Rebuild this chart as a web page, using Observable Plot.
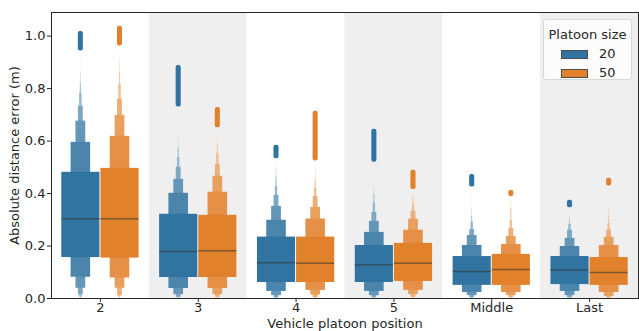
<!DOCTYPE html>
<html><head><meta charset="utf-8">
<script src="https://cdn.jsdelivr.net/npm/d3@7"></script>
<script src="https://cdn.jsdelivr.net/npm/@observablehq/plot@0.6"></script>
<style>
body{margin:0;background:#fff;font-family:"DejaVu Sans",sans-serif;}
#wrap{position:relative;width:639px;height:331px;}
.legend{position:absolute;left:543px;top:19px;width:87px;height:59px;border:1px solid #d9d9d9;border-radius:3px;background:rgba(255,255,255,0.8);font-size:13px;color:#262626;box-sizing:content-box;}
.legend .t{position:absolute;left:0;width:100%;top:7px;text-align:center;line-height:15px;}
.legend .row{position:absolute;left:17px;height:15px;line-height:15px;}
.legend .sw{display:inline-block;width:25px;height:7px;border:1px solid #4d4d4d;vertical-align:middle;margin-right:11px;}
</style></head><body><div id="wrap"></div>
<script>
const positions = ["2", "3", "4", "5", "Middle", "Last"];
const platoonSizes = ["20", "50"];
const palette = ["#3274a1", "#e1812c"];

const median20 = [0.304, 0.179, 0.136, 0.129, 0.103, 0.109];
const median50 = [0.304, 0.182, 0.134, 0.134, 0.111, 0.099];

// letter values, level 1 (quartiles) ... level 8
const upper20 = [
  [0.481, 0.595, 0.676, 0.733, 0.782, 0.822, 0.864, 0.921],
  [0.321, 0.401, 0.454, 0.500, 0.538, 0.573, 0.607, 0.660],
  [0.234, 0.298, 0.351, 0.393, 0.427, 0.462, 0.492, 0.523],
  [0.202, 0.252, 0.294, 0.328, 0.363, 0.397, 0.427, 0.469],
  [0.160, 0.202, 0.240, 0.263, 0.290, 0.313, 0.340, 0.397],
  [0.160, 0.198, 0.229, 0.260, 0.282, 0.298, 0.317, 0.336]
];
const lower20 = [
  [0.156, 0.081, 0.039, 0.014, 0.005, 0.002, 0.001, 0.000],
  [0.080, 0.038, 0.015, 0.005, 0.002, 0.001, 0.0005, 0.000],
  [0.061, 0.027, 0.011, 0.003, 0.001, 0.0005, 0.0002, 0.000],
  [0.061, 0.027, 0.011, 0.004, 0.001, 0.0005, 0.0002, 0.000],
  [0.050, 0.023, 0.011, 0.004, 0.001, 0.0005, 0.0002, 0.000],
  [0.053, 0.027, 0.011, 0.003, 0.001, 0.0005, 0.0002, 0.000]
];
const upper50 = [
  [0.496, 0.618, 0.698, 0.760, 0.816, 0.864, 0.908, 0.947],
  [0.317, 0.405, 0.466, 0.511, 0.553, 0.588, 0.618, 0.649],
  [0.234, 0.303, 0.347, 0.389, 0.420, 0.454, 0.485, 0.508],
  [0.210, 0.260, 0.302, 0.332, 0.359, 0.382, 0.400, 0.412],
  [0.168, 0.206, 0.237, 0.267, 0.298, 0.344, 0.374, 0.387],
  [0.156, 0.202, 0.233, 0.260, 0.286, 0.317, 0.355, 0.400]
];
const lower50 = [
  [0.154, 0.078, 0.039, 0.011, 0.005, 0.002, 0.001, 0.000],
  [0.080, 0.038, 0.015, 0.005, 0.002, 0.001, 0.0005, 0.000],
  [0.061, 0.031, 0.013, 0.004, 0.001, 0.0005, 0.0002, 0.000],
  [0.065, 0.031, 0.015, 0.005, 0.002, 0.001, 0.0005, 0.000],
  [0.050, 0.023, 0.011, 0.004, 0.001, 0.0005, 0.0002, 0.000],
  [0.050, 0.023, 0.008, 0.003, 0.001, 0.0005, 0.0002, 0.000]
];
// outlier span [low, high]
const outliers20 = [[0.943, 1.018], [0.730, 0.888], [0.533, 0.584], [0.519, 0.645], [0.425, 0.473], [0.346, 0.374]];
const outliers50 = [[0.962, 1.038], [0.651, 0.728], [0.524, 0.714], [0.415, 0.489], [0.389, 0.412], [0.429, 0.458]];

const nLevels = 8;
const yMax = 1.09;
const groupWidth = 0.4;

function levelColor(base, level) {
  const t = 0.85 * (level - 1) / (nLevels - 1);
  return d3.interpolateRgb(base, "#ffffff")(t);
}

const boxes = [], mainBoxes = [], medians = [], outs = [];
positions.forEach((p, i) => {
  platoonSizes.forEach((s, j) => {
    const up = j ? upper50[i] : upper20[i];
    const lo = j ? lower50[i] : lower20[i];
    const med = j ? median50[i] : median20[i];
    const ol = j ? outliers50[i] : outliers20[i];
    const c = i + (j ? groupWidth / 2 : -groupWidth / 2);
    for (let L = nLevels; L >= 1; L--) {
      const hw = (groupWidth / 2) * Math.pow(2, -(L - 1));
      const row = {x1: c - hw, x2: c + hw, y1: lo[L - 1], y2: up[L - 1], fill: levelColor(palette[j], L)};
      (L === 1 ? mainBoxes : boxes).push(row);
    }
    medians.push({x1: c - groupWidth / 2 + 0.005, x2: c + groupWidth / 2 - 0.005, y: med});
    outs.push({x1: c - 0.026, x2: c + 0.026, y1: ol[0], y2: ol[1], fill: palette[j]});
  });
});
const bands = [1, 3, 5].map(i => ({x1: i - 0.5, x2: i + 0.5}));

const chart = Plot.plot({
  width: 639, height: 331,
  marginLeft: 51, marginRight: 1, marginTop: 12, marginBottom: 33,
  style: {fontFamily: "DejaVu Sans, sans-serif", fontSize: "13px", color: "#262626", background: "transparent"},
  x: {domain: [-0.5, 5.5]},
  y: {domain: [0, yMax]},
  marks: [
    Plot.rect(bands, {x1: "x1", x2: "x2", fill: "#efefef"}),
    Plot.rect(boxes, {x1: "x1", x2: "x2", y1: "y1", y2: "y2", fill: d => d.fill}),
    Plot.rect(mainBoxes, {x1: "x1", x2: "x2", y1: "y1", y2: "y2", fill: d => d.fill, insetLeft: 0.5, insetRight: 0.5}),
    Plot.ruleY(medians, {x1: "x1", x2: "x2", y: "y", stroke: "#333333", strokeOpacity: 0.55, strokeWidth: 1.5}),
    Plot.rect(outs, {x1: "x1", x2: "x2", y1: "y1", y2: "y2", fill: d => d.fill, rx: 2}),
    Plot.axisY({ticks: [0, 0.2, 0.4, 0.6, 0.8, 1.0], tickFormat: d3.format(".1f"), tickSize: 4, tickPadding: 2,
      label: "Absolute distance error (m)", labelAnchor: "center", labelArrow: "none", labelOffset: 42}),
    Plot.axisX({ticks: [0, 1, 2, 3, 4, 5], tickFormat: i => positions[i], tickSize: 4, tickPadding: 0,
      label: "Vehicle platoon position", labelAnchor: "center", labelArrow: "none", labelOffset: 29}),
    Plot.frame({stroke: "#262626", strokeWidth: 1})
  ]
});
const wrap = document.getElementById("wrap");
wrap.appendChild(chart);
const leg = document.createElement("div");
leg.className = "legend";
leg.innerHTML = `<div class="t">Platoon size</div>` +
  platoonSizes.map((s, j) => `<div class="row" style="top:${26 + j * 19}px"><span class="sw" style="background:${palette[j]}"></span>${s}</div>`).join("");
wrap.appendChild(leg);
</script></body></html>
